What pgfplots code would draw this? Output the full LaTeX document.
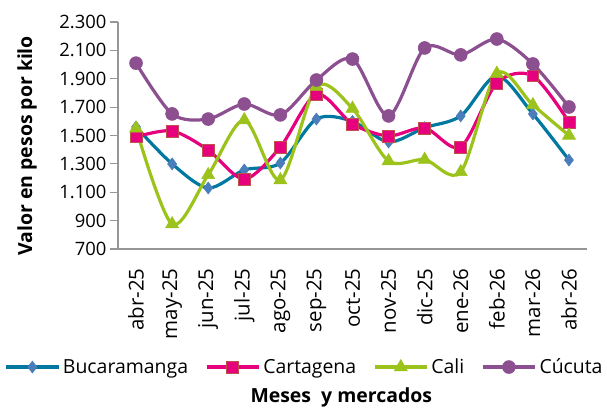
\documentclass[border=0pt]{standalone}
\usepackage{pgfplots}
\pgfplotsset{compat=1.18}
\usepackage{pgfplotstable}
\usepackage{fontspec}
\setmainfont{Open Sans}
\definecolor{cbuc}{RGB}{0,120,160}
\definecolor{cbucm}{RGB}{74,126,187}
\definecolor{ccar}{RGB}{230,0,126}
\definecolor{ccarm}{RGB}{192,80,77}
\definecolor{ccal}{RGB}{155,195,28}
\definecolor{ccuc}{RGB}{140,80,145}
\definecolor{axgray}{RGB}{150,150,150}
\pgfplotstableread{
x buc car cal cuc
0 1560 1490 1550 2010
1 1300 1532 876 1652
2 1130 1398 1222 1616
3 1257 1193 1609 1722
4 1306 1419 1186 1645
5 1616 1790 1845 1891
6 1600 1581 1690 2039
7 1454 1497 1320 1638
8 1555 1553 1330 2117
9 1638 1419 1243 2068
10 1920 1870 1937 2180
11 1652 1920 1715 2004
12 1327 1595 1500 1701
}\datatable
\begin{document}
\begin{tikzpicture}[font=\fontsize{19.5}{22}\selectfont]
\begin{axis}[
  name=ax,
  scale only axis,
  width=469bp, height=227bp,
  xmin=-0.5, xmax=12.5,
  ymin=700, ymax=2300,
  ytick={700,900,...,2300},
  xtick={0,...,12},
  xticklabels={abr-25,may-25,jun-25,jul-25,ago-25,sep-25,oct-25,nov-25,dic-25,ene-26,feb-26,mar-26,abr-26},
  x tick label style={rotate=90, anchor=east, font=\fontsize{20.5}{22}\selectfont},
  y tick label style={font=\fontsize{18.5}{22}\selectfont},
  xticklabel shift=8bp,
  xtick style={draw=none},
  ytick style={draw=axgray, line width=1.2pt},
  tick align=outside,
  major tick length=8bp,
  axis x line*=bottom, axis y line*=left,
  axis line style={draw=axgray, line width=1.5pt, -},
  /pgf/number format/.cd, fixed, precision=0, 1000 sep={.}, assume math mode=true,
  /pgfplots/.cd,
  ylabel={\bfseries Valor en pesos por kilo},
  ylabel style={at={(axis description cs:-0.194,0.455)}, anchor=center, rotate=0},
  xlabel={\bfseries Meses\ \ y mercados},
  xlabel style={at={(axis description cs:0.476,-0.655)}, anchor=center},
  legend style={at={(axis description cs:0.399,-0.52)}, anchor=center, draw=none, legend columns=4, column sep=0pt, inner sep=0pt, nodes={inner xsep=3bp}, /tikz/every even column/.append style={column sep=14bp}},
  legend cell align=left,
  legend image code/.code={
    \draw[mark repeat=2,mark phase=2] plot coordinates {(0bp,0bp) (26bp,0bp) (52bp,0bp)};
  },
  every axis plot/.append style={line width=3.2bp, smooth},
  clip=false,
]
\addplot[color=cbuc, mark=diamond*, mark size=6pt, mark options={fill=cbucm, draw=cbucm, line width=0.6pt}] table[x=x,y=buc]{\datatable};
\addlegendentry{Bucaramanga}
\addplot[color=ccar, mark=square*, mark size=6pt, mark options={fill=ccar, draw=ccarm, line width=0.8pt}] table[x=x,y=car]{\datatable};
\addlegendentry{Cartagena}
\addplot[color=ccal, mark=triangle*, mark size=7.5pt, mark options={fill=ccal, draw=ccal, line width=0.6pt}] table[x=x,y=cal]{\datatable};
\addlegendentry{Cali}
\addplot[color=ccuc, mark=*, mark size=6.5pt, mark options={fill=ccuc, draw=ccuc, line width=0.6pt}] table[x=x,y=cuc]{\datatable};
\addlegendentry{Cúcuta}
\end{axis}
\pgfresetboundingbox
\path[use as bounding box] (ax.south west) ++(-118bp,-160bp) rectangle ++(607bp,409bp);
\end{tikzpicture}
\end{document}
